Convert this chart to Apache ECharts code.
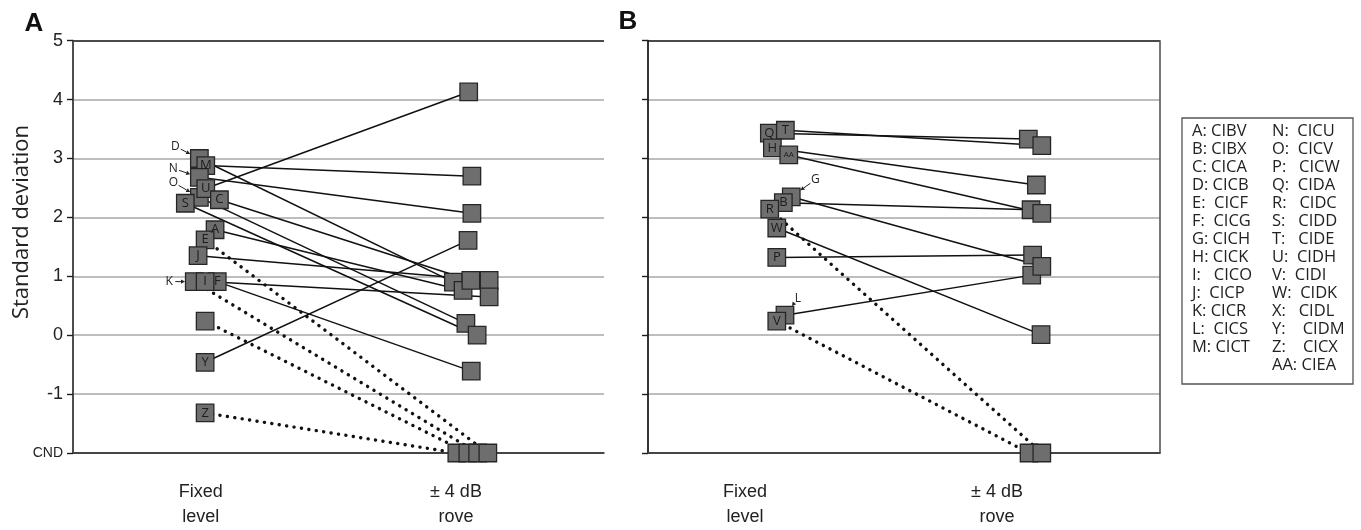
<!DOCTYPE html>
<html><head><meta charset="utf-8">
<script src="https://cdn.jsdelivr.net/npm/echarts@6/dist/echarts.min.js"></script>
<style>html,body{margin:0;padding:0;background:#fff}#c{width:1361px;height:530px}</style>
</head><body><div id="c"></div>
<script>
// ---------------- data ----------------
const CND = -2;                       // "could not determine" level on the y axis
const yTickValues = [-2, -1, 0, 1, 2, 3, 4, 5];
const xCategoryLabels = ['Fixed\nlevel', '\u00b1 4 dB\nrove'];
const xCategoryValues = [1, 3];

// Panel A (subjects listed in drawing order)
const idsA      = ['D','M','N','O','U','S','C','A','E','J','K','F','I','X','Y','Z'];
const fixedA    = [3.00, 2.88, 2.68, 2.34, 2.49, 2.24, 2.30, 1.79, 1.62, 1.35, 0.91, 0.91, 0.91, 0.24, -0.46, -1.32];
const roveA     = [0.90, 2.70, 2.07, 0.20, 4.13, 0.00, 0.93, 0.76, CND, 0.93, CND, -0.61, 0.65, CND, 1.61, CND];
const jitterFixedA = [-0.01, 0.04, -0.01, -0.01, 0.04, -0.12, 0.147, 0.113, 0.035, -0.02, -0.05, 0.13, 0.035, 0.035, 0.035, 0.035];
const jitterRoveA  = [-0.02, 0.125, 0.125, 0.078, 0.10, 0.166, 0.117, 0.056, 0.25, 0.26, 0.17, 0.12, 0.26, 0.093, 0.095, 0.007];

// Panel B
const idsB      = ['Q','T','H','AA','G','B','R','W','P','L','V'];
const fixedB    = [3.43, 3.48, 3.18, 3.06, 2.35, 2.25, 2.14, 1.82, 1.32, 0.34, 0.24];
const roveB     = [3.33, 3.22, 2.55, 2.07, 1.17, 2.13, CND, 0.01, 1.36, 1.02, CND];
const jitterFixedB = [0.193, 0.32, 0.217, 0.347, 0.367, 0.304, 0.196, 0.252, 0.252, 0.317, 0.252];
const jitterRoveB  = [0.248, 0.355, 0.312, 0.355, 0.355, 0.27, 0.355, 0.349, 0.282, 0.275, 0.254];

// Key
const keyCol1 = ['A: CIBV','B: CIBX','C: CICA','D: CICB','E:  CICF','F:  CICG','G: CICH','H: CICK','I:   CICO','J:  CICP','K: CICR','L:  CICS','M: CICT'];
const keyCol2 = ['N:  CICU','O:  CICV','P:   CICW','Q:  CIDA','R:   CIDC','S:   CIDD','T:   CIDE','U:  CIDH','V:  CIDI','W:  CIDK','X:   CIDL','Y:    CIDM','Z:    CICX','AA: CIEA'];

// ---------------- styling ----------------
const outsideLabel = { D:[-24,-12], N:[-26,-9], O:[-26,-15], K:[-25,0], G:[24,-17], L:[13,-17] };
const unlabeled = ['X'];
const SQ = 17.5;
const sqStyle = { color:'#6e6e6e', borderColor:'#262626', borderWidth:1.3, opacity:1 };
const solidLine = { color:'#111', width:1.5, type:'solid' };
const dotLine = { color:'#111', width:3.4, type:[0.1, 7.4], cap:'round' };

const chart = echarts.init(document.getElementById('c'), null, { renderer:'canvas' });

function panelSeries(ids, fixed, rove, jf, jr, g) {
  const out = [];
  ids.forEach((id, i) => {
    out.push({
      type:'line', xAxisIndex:g, yAxisIndex:g, z:2, silent:true, symbol:'none',
      data:[[xCategoryValues[0] + jf[i], fixed[i]], [xCategoryValues[1] + jr[i], rove[i]]],
      lineStyle: rove[i] === CND ? dotLine : solidLine
    });
  });
  const annot = [];
  const fixedPts = ids.map((id, i) => {
    const inside = !outsideLabel[id] && unlabeled.indexOf(id) < 0;
    if (outsideLabel[id]) annot.push({ id, x: xCategoryValues[0] + jf[i], y: fixed[i] });
    return {
      name:id, value:[xCategoryValues[0] + jf[i], fixed[i]],
      label:{ show:inside, formatter:id, fontSize: id.length > 1 ? 8 : 13 }
    };
  });
  const rovePts = ids.map((id, i) => ({ name:id, value:[xCategoryValues[1] + jr[i], rove[i]] }))
    .sort((a, b) => a.value[0] - b.value[0]);
  const scatterBase = {
    type:'scatter', xAxisIndex:g, yAxisIndex:g, z:3, silent:true,
    symbol:'rect', symbolSize:SQ, itemStyle:sqStyle,
    label:{ position:'inside', color:'#1c1c1c', fontFamily:'Open Sans' }
  };
  out.push(Object.assign({}, scatterBase, { data: rovePts, label:{ show:false } }));
  out.push(Object.assign({}, scatterBase, { data: fixedPts }));
  out.push({
    type:'custom', xAxisIndex:g, yAxisIndex:g, z:4, silent:true,
    data: annot.map(a => [a.x, a.y]),
    renderItem: (params, api) => {
      const a = annot[params.dataIndex];
      const c = api.coord([api.value(0), api.value(1)]);
      const o = outsideLabel[a.id];
      const lx = c[0] + o[0], ly = c[1] + o[1];
      const dx = c[0] - lx, dy = c[1] - ly, L = Math.hypot(dx, dy);
      const ux = dx / L, uy = dy / L;
      const sx = lx + ux * 6, sy = ly + uy * 6;
      const edge = (SQ / 2) / Math.max(Math.abs(ux), Math.abs(uy));
      const ex = c[0] - ux * (edge + 0.5), ey = c[1] - uy * (edge + 0.5);
      const ah = 4, aw = 2.2;
      const bx = ex - ux * ah, by = ey - uy * ah;
      return { type:'group', children:[
        { type:'text', x:lx, y:ly, style:{ text:a.id, fill:'#222', font:'12px "Open Sans"', align:'center', verticalAlign:'middle' } },
        { type:'line', shape:{ x1:sx, y1:sy, x2:bx, y2:by }, style:{ stroke:'#222', lineWidth:1 } },
        { type:'polygon', shape:{ points:[[ex,ey],[bx-uy*aw, by+ux*aw],[bx+uy*aw, by-ux*aw]] }, style:{ fill:'#222' } }
      ]};
    }
  });
  return out;
}

const splitColors = yTickValues.map((v, i) => (i === 0 || i === yTickValues.length - 1) ? '#4a4a4a' : '#bdbdbd');

function xAxisFor(g, min, max) {
  return {
    gridIndex:g, type:'value', min, max,
    axisLine:{ show:true, onZero:false, lineStyle:{ color:'#444', width:1.6 } },
    axisTick:{ show:false }, splitLine:{ show:false },
    axisLabel:{
      customValues: xCategoryValues,
      formatter: v => { const k = xCategoryValues.indexOf(v); return k >= 0 ? xCategoryLabels[k] : ''; },
      margin:27, fontSize:18, lineHeight:25, color:'#222', fontFamily:'Liberation Sans'
    }
  };
}
function yAxisFor(g, showLabels) {
  return {
    gridIndex:g, type:'value', min:CND, max:5, interval:1,
    axisLine:{ show:true, onZero:false, lineStyle:{ color:'#1e1e1e', width:1.8 } },
    axisTick:{ show:true, length:6, lineStyle:{ color:'#1e1e1e', width:1.4 } },
    splitLine:{ show:true, lineStyle:{ color:splitColors, width:1.8 } },
    axisLabel:{
      show:showLabels, margin:10, fontSize:18, color:'#222', fontFamily:'Liberation Sans',
      formatter: v => v === CND ? '{c|CND}' : String(v),
      rich:{ c:{ fontSize:14, color:'#222', fontFamily:'Liberation Sans' } }
    }
  };
}
function rightBorder(g) {
  return { gridIndex:g, type:'value', min:CND, max:5, position:'right',
    axisLine:{ show:true, lineStyle:{ color:'#555', width:1.6 } },
    axisTick:{ show:false }, axisLabel:{ show:false }, splitLine:{ show:false } };
}

const keyGraphics = [{ type:'rect', shape:{ x:1182, y:118, width:171, height:266 }, style:{ fill:'#fff', stroke:'#555', lineWidth:1.3 } }];
keyCol1.forEach((t, i) => keyGraphics.push({ type:'text', x:1192, y:131.7 + 18 * i, style:{ text:t, fill:'#222', font:'16.5px "Open Sans"', verticalAlign:'middle' } }));
keyCol2.forEach((t, i) => keyGraphics.push({ type:'text', x:1272, y:131.7 + 18 * i, style:{ text:t, fill:'#222', font:'16.5px "Open Sans"', verticalAlign:'middle' } }));

const option = {
  animation:false,
  backgroundColor:'#fff',
  grid:[
    { left:73, right:757, top:40.7, bottom:72.3 },
    { left:648, right:201, top:40.7, bottom:72.3 }
  ],
  xAxis:[ xAxisFor(0, 0, 4.16), xAxisFor(1, 0.23, 4.293) ],
  yAxis:[ yAxisFor(0, true), yAxisFor(1, false), rightBorder(0), rightBorder(1) ],
  series:[].concat(
    panelSeries(idsA, fixedA, roveA, jitterFixedA, jitterRoveA, 0),
    panelSeries(idsB, fixedB, roveB, jitterFixedB, jitterRoveB, 1)
  ),
  graphic:[
    { type:'text', x:34, y:24, style:{ text:'A', font:'bold 26px "Liberation Sans"', fill:'#111', align:'center', verticalAlign:'middle' } },
    { type:'text', x:628, y:22, style:{ text:'B', font:'bold 26px "Liberation Sans"', fill:'#111', align:'center', verticalAlign:'middle' } },
    { type:'text', x:22, y:222, rotation:Math.PI/2, style:{ text:'Standard deviation', font:'22px "Open Sans"', fill:'#222', align:'center', verticalAlign:'middle' } }
  ].concat(keyGraphics)
};
chart.setOption(option);
</script>
</body></html>
